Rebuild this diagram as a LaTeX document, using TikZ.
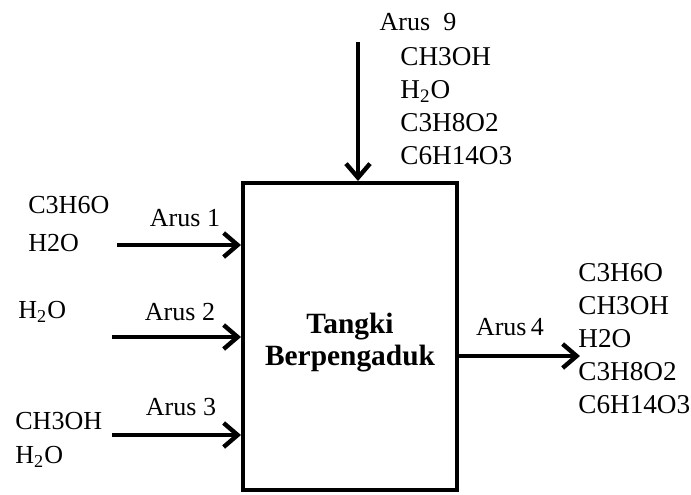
\documentclass[tikz,border=0pt]{standalone}
\usepackage{fontspec}
\setmainfont{Liberation Serif}
\usetikzlibrary{arrows.meta}
\begin{document}
\begin{tikzpicture}[x=0.5pt,y=-0.5pt,
  flow/.style={line width=2.4pt,-{Straight Barb[length=7pt,width=12pt,line width=2.2pt]}},
  lbl/.style={inner sep=0pt,font=\fontsize{13}{15}\selectfont},
  block/.style={inner sep=0pt,anchor=west,align=left},
  tankbox/.style={draw,line width=2pt,minimum width=107pt,minimum height=153.5pt,inner sep=0pt},
  tanktext/.style={inner sep=0pt,align=center,font=\fontsize{14.7}{16}\selectfont\bfseries}]
\useasboundingbox (0,0) rectangle (691,494);
\node[tankbox] (tank) at (350,336.5) {};
\node[tanktext] (tanklabel) at (350,343) {Tangki\\Berpengaduk};
% inlet arrows
\coordinate (s1) at (117,245);
\coordinate (s2) at (112,337);
\coordinate (s3) at (112,435);
\coordinate (s9) at (358,42);
\coordinate (e4) at (580,356);
\draw[flow] (s1) -- (s1 -| tank.west);
\draw[flow] (s2) -- (s2 -| tank.west);
\draw[flow] (s3) -- (s3 -| tank.west);
\draw[flow] (s9) -- (s9 |- tank.north);
\draw[flow] (e4 -| tank.east) -- (e4);
% stream labels
\node[lbl] (a1) at (185,218) {Arus 1};
\node[lbl] (a2) at (180,312) {Arus 2};
\node[lbl] (a3) at (181,407) {Arus 3};
\node[lbl] (a4) at (510,327) {Arus\,4};
\node[lbl] (a9) at (418,22) {Arus\ \ 9};
% compositions
\node[lbl,block,font=\fontsize{13}{19}\selectfont] (c1) at (28,224) {C3H6O\\H2O};
\node[lbl,block] (c2) at (18,312) {H\textsubscript{2}O};
\node[lbl,block,font=\fontsize{13}{17}\selectfont] (c3) at (15,440) {CH3OH\\H\textsubscript{2}O};
\node[lbl,block,font=\fontsize{13.6}{16.5}\selectfont] (c9) at (400,106) {CH3OH\\H\textsubscript{2}O\\C3H8O2\\C6H14O3};
\node[lbl,block,font=\fontsize{13.6}{16.5}\selectfont] (c4) at (578,338.5) {C3H6O\\CH3OH\\H2O\\C3H8O2\\C6H14O3};
\end{tikzpicture}
\end{document}
